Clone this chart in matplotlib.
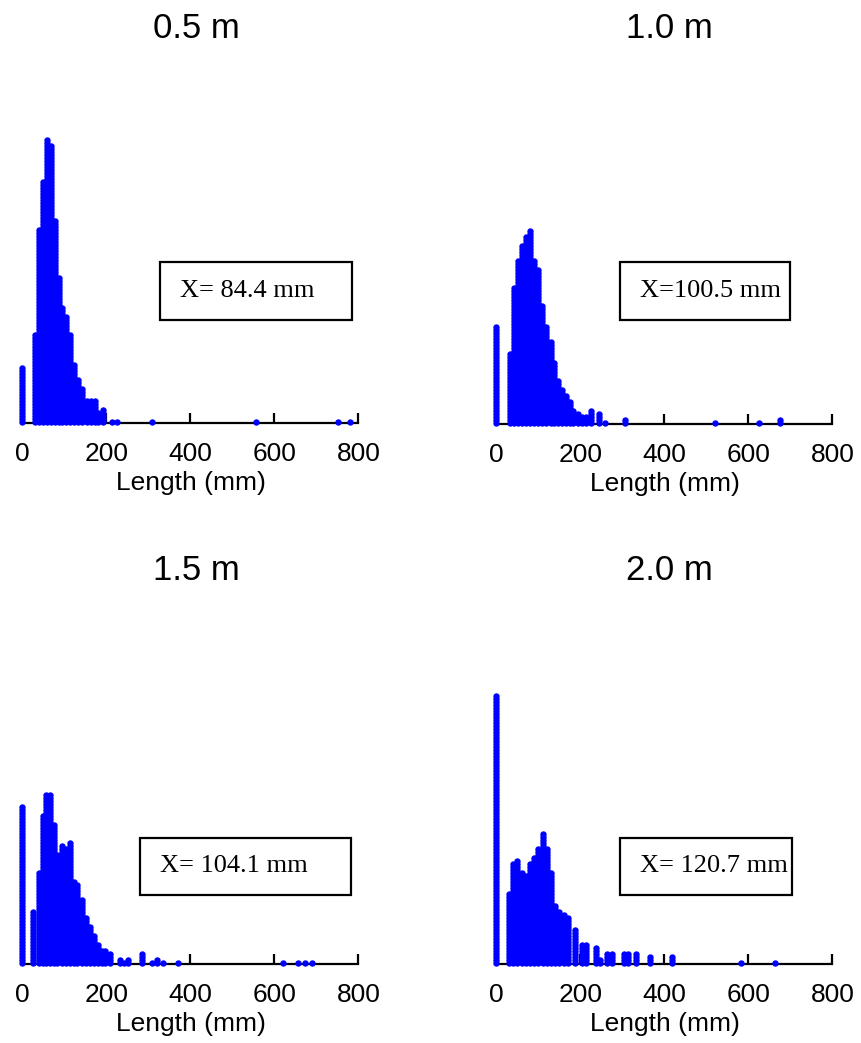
import numpy as np
import matplotlib
matplotlib.use("Agg")
import matplotlib.pyplot as plt
from matplotlib.patches import Rectangle

# ---------------- data (length in mm, number of stacked dots) ----------------
titles = ["0.5 m", "1.0 m", "1.5 m", "2.0 m"]
means = ["X= 84.4 mm", "X=100.5 mm", "X= 104.1 mm", "X= 120.7 mm"]

len_05 = [0, 29, 39, 49, 59, 68, 77, 86, 95, 104, 114, 123, 132, 142, 153, 163, 172,
          180, 191, 212, 224, 308, 555, 751, 779]
cnt_05 = [19, 30, 65, 81, 95, 93, 68, 49, 39, 36, 30, 20, 15, 12, 8, 8, 8,
          4, 5, 1, 1, 1, 1, 1, 1]

len_10 = [0, 33, 42, 52, 61, 70, 80, 90, 100, 109, 119, 129, 138, 146, 155, 165, 174,
          183, 193, 203, 213, 226, 245, 258, 306, 520, 626, 675]
cnt_10 = [33, 24, 46, 55, 60, 63, 65, 55, 52, 40, 33, 28, 21, 15, 12, 10, 8,
          5, 4, 3, 3, 5, 4, 1, 2, 1, 1, 2]

len_15 = [0, 26, 39, 48, 57, 66, 75, 83, 93, 104, 114, 123, 130, 141, 151, 160, 170,
          180, 189, 197, 208, 232, 242, 252, 284, 309, 321, 334, 371, 620, 656, 673, 689]
cnt_15 = [53, 18, 31, 50, 57, 57, 47, 37, 40, 39, 41, 28, 27, 22, 16, 13, 10,
          7, 5, 5, 4, 2, 1, 2, 4, 1, 2, 1, 1, 1, 1, 1, 1]

len_20 = [0, 30, 40, 50, 60, 70, 80, 90, 100, 110, 120, 130, 140, 150, 160, 170,
          187, 203, 213, 237, 246, 264, 275, 303, 312, 331, 365, 417, 583, 664]
cnt_20 = [90, 24, 34, 35, 31, 30, 34, 36, 39, 44, 39, 31, 20, 18, 17, 16,
          12, 7, 7, 6, 2, 4, 4, 4, 4, 4, 3, 3, 1, 1]

xticks = [0, 200, 400, 600, 800]

# ---------------- layout ----------------
W, H = 862, 1043
fig = plt.figure(figsize=(W / 100, H / 100), dpi=100)
STEP = 3.0  # pixels per stacked dot

# (left px, right px, baseline px, top px)
geo = [(22.5, 358.5, 423, 100), (496.5, 832.5, 424, 100),
       (22.5, 358.5, 964, 640), (496.5, 832.5, 964, 640)]
title_pos = [(196, 28), (669, 28), (196, 570), (669, 570)]
boxes = [(160, 262, 352, 320), (620, 262, 790, 320),
         (140, 838, 351, 895), (620, 838, 792, 895)]

data = [(len_05, cnt_05), (len_10, cnt_10), (len_15, cnt_15), (len_20, cnt_20)]
blue = "#0000ff"
sans = ["Liberation Sans", "DejaVu Sans"]
serif = ["Liberation Serif", "DejaVu Serif"]

for i, ((l, r, b, t), (lens, cnts)) in enumerate(zip(geo, data)):
    ax = fig.add_axes([l / W, 1 - b / H, (r - l) / W, (b - t) / H])
    xs, ys = [], []
    for x, n in zip(lens, cnts):
        xs.extend([x] * n)
        ys.extend(list(np.arange(n) + 0.45))
    ax.plot(xs, ys, "o", ms=4.6, color=blue, mec="none", clip_on=False, zorder=3)
    ax.set_xlim(0, 800)
    ax.set_ylim(0, (b - t) / STEP)
    for s in ["top", "left", "right"]:
        ax.spines[s].set_visible(False)
    ax.spines["bottom"].set_linewidth(1.6)
    ax.set_yticks([])
    ax.set_xticks(xticks)
    ax.set_xticklabels([str(v) for v in xticks], fontfamily=sans, fontsize=19)
    ax.tick_params(axis="x", direction="in", length=7.5, width=1.6, pad=13.5)
    ax.set_xlabel("Length (mm)", fontfamily=sans, fontsize=19, labelpad=4)
    ax.patch.set_alpha(0)

    tx, ty = title_pos[i]
    fig.text(tx / W, 1 - ty / H, titles[i], ha="center", va="center",
             fontfamily=sans, fontsize=25)

    x0, y0, x1, y1 = boxes[i]
    fig.patches.append(Rectangle((x0 / W, 1 - y1 / H), (x1 - x0) / W, (y1 - y0) / H,
                                 transform=fig.transFigure, fill=False,
                                 edgecolor="black", linewidth=1.6))
    fig.text((x0 + 20) / W, 1 - (y0 + y1) / 2 / H, means[i], ha="left",
             va="center", fontfamily=serif, fontsize=19)

fig.savefig("out.png", dpi=100)
